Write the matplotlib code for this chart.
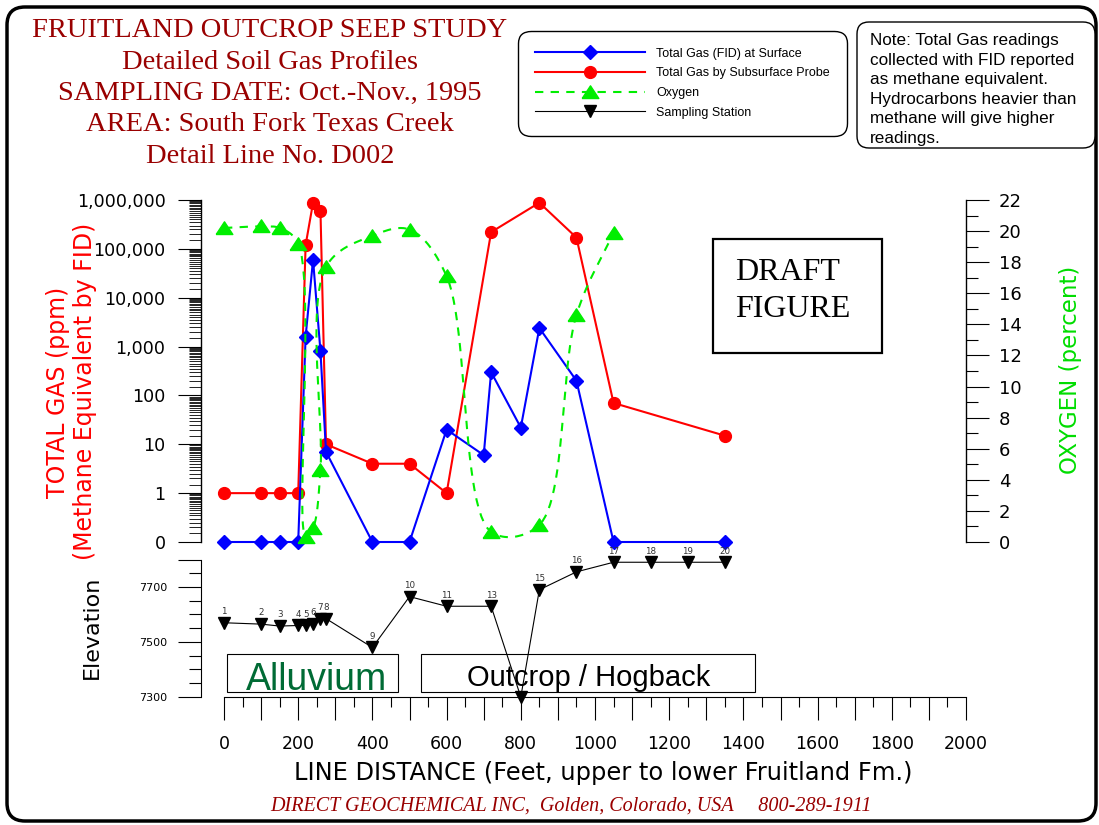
"""
Fruitland outcrop seep study - detailed soil gas profile, line D002
"""
import numpy as np
import matplotlib
matplotlib.use('Agg')
import matplotlib.pyplot as plt
from matplotlib.lines import Line2D
from matplotlib.patches import FancyBboxPatch, Rectangle
from matplotlib.ticker import FixedLocator, LogLocator, MultipleLocator, NullFormatter

# Total gas by FID at surface (ppm, 0 = not detected)
fid_dist = [0, 100, 150, 200, 220, 240, 260, 275, 400, 500, 600, 700, 720, 800, 850, 950, 1050, 1350]
fid_ppm = [0, 0, 0, 0, 1600, 60000, 800, 7, 0, 0, 20, 6, 300, 22, 2400, 200, 0, 0]

# Total gas by subsurface probe (ppm)
probe_dist = [0, 100, 150, 200, 220, 240, 260, 275, 400, 500, 600, 720, 850, 950, 1050, 1350]
probe_ppm = [1, 1, 1, 1, 120000, 880000, 600000, 10, 4, 4, 1, 220000, 880000, 170000, 70, 15]

# Oxygen (percent)
o2_dist = [0, 100, 150, 200, 220, 240, 260, 275, 400, 500, 600, 720, 850, 950, 1050]
o2_pct = [20.2, 20.3, 20.2, 19.2, 0.35, 0.9, 4.6, 17.7, 19.7, 20.1, 17.1, 0.65, 1.1, 14.6, 19.9]

# Sampling stations (elevation, ft)
stn_dist = [0, 100, 150, 200, 220, 240, 260, 275, 400, 500, 600, 720, 800, 850, 950, 1050, 1150, 1250, 1350]
stn_elev = [7570, 7565, 7558, 7560, 7560, 7565, 7585, 7585, 7480, 7665, 7630, 7630, 7300, 7690, 7755,
            7790, 7790, 7790, 7790]
stn_label = ['1', '2', '3', '4', '5', '6', '7', '8', '9', '10', '11', '13', '', '15', '16', '17', '18', '19', '20']

gas_ticks = [0.1, 1, 10, 100, 1e3, 1e4, 1e5, 1e6]
gas_ticklabels = ['0', '1', '10', '100', '1,000', '10,000', '100,000', '1,000,000']

BLUE = '#0000FF'
RED = '#FF0000'
GREEN = '#00EE00'
DARKRED = '#990000'

W, H = 1099, 825
plt.rcParams['font.family'] = 'DejaVu Sans'
fig = plt.figure(figsize=(W / 100, H / 100), dpi=100)


def spline(xs, ys, sx, sy, n=24):
    # centripetal Catmull-Rom through the points, worked out in screen-scaled units
    p = np.column_stack([np.asarray(xs, float) * sx, np.asarray(ys, float) * sy])
    p = np.vstack([2 * p[0] - p[1], p, 2 * p[-1] - p[-2]])
    out = []
    for i in range(1, len(p) - 2):
        p0, p1, p2, p3 = p[i - 1], p[i], p[i + 1], p[i + 2]
        t0 = 0.0
        t1 = t0 + np.linalg.norm(p1 - p0) ** 0.5
        t2 = t1 + np.linalg.norm(p2 - p1) ** 0.5
        t3 = t2 + np.linalg.norm(p3 - p2) ** 0.5
        t = np.linspace(t1, t2, n, endpoint=False)[:, None]
        a1 = (t1 - t) / (t1 - t0) * p0 + (t - t0) / (t1 - t0) * p1
        a2 = (t2 - t) / (t2 - t1) * p1 + (t - t1) / (t2 - t1) * p2
        a3 = (t3 - t) / (t3 - t2) * p2 + (t - t2) / (t3 - t2) * p3
        b1 = (t2 - t) / (t2 - t0) * a1 + (t - t0) / (t2 - t0) * a2
        b2 = (t3 - t) / (t3 - t1) * a2 + (t - t1) / (t3 - t1) * a3
        out.append((t2 - t) / (t2 - t1) * b1 + (t - t1) / (t2 - t1) * b2)
    out.append(p[-2][None, :])
    out = np.vstack(out)
    return out[:, 0] / sx, out[:, 1] / sy


# overlay in pixel coordinates for the frame, titles and boxes
ov = fig.add_axes([0, 0, 1, 1])
ov.set_xlim(0, W)
ov.set_ylim(H, 0)
ov.axis('off')

XLIM = (-62, 2000)
ax = fig.add_axes([201 / W, 1 - 542 / H, 765 / W, 342 / H])
ax.set_facecolor('none')
ax2 = ax.twinx()
ax_el = fig.add_axes([201 / W, 1 - 697 / H, 765 / W, 137.5 / H], sharex=ax)
ax_el.set_facecolor('none')

# total gas, log scale with 0 drawn at the bottom decade
fid_plot = np.where(np.array(fid_ppm) == 0, 0.1, fid_ppm)
ax.plot(probe_dist, probe_ppm, color=RED, lw=1.5, marker='o', ms=8.5, clip_on=False, zorder=3)
ax.plot(fid_dist, fid_plot, color=BLUE, lw=1.5, marker='D', ms=6.8, clip_on=False, zorder=4)
ax.set_yscale('log')
ax.set_ylim(0.1, 1e6)
ax.set_xlim(*XLIM)
ax.set_yticks(gas_ticks)
ax.set_yticklabels(gas_ticklabels, fontsize=12.6)
ax.yaxis.set_minor_locator(LogLocator(base=10, subs=np.arange(1.5, 10, 0.5), numticks=50))
ax.yaxis.set_minor_formatter(NullFormatter())
ax.tick_params(axis='y', which='major', direction='out', length=16.5, width=0.8, pad=9)
ax.tick_params(axis='y', which='minor', direction='out', length=9, width=0.6)
ax.tick_params(axis='x', which='both', bottom=False, labelbottom=False)
for s in ['top', 'right', 'bottom']:
    ax.spines[s].set_visible(False)
ax.spines['left'].set_linewidth(1.0)

# oxygen, smoothed dashed curve
cx, cy = spline(o2_dist, o2_pct, 0.371, 15.545)
ax2.plot(cx, cy, color=GREEN, lw=1.5, ls=(0, (4, 3.5)), zorder=2)
o2_marker = [(-1, -0.72), (1, -0.72), (0, 0.8), (-1, -0.72)]
ax2.plot(o2_dist, o2_pct, ls='none', marker=o2_marker, ms=12, color=GREEN, clip_on=False, zorder=2)
ax2.set_ylim(0, 22)
ax2.set_yticks(range(0, 23, 2))
ax2.yaxis.set_minor_locator(MultipleLocator(1))
ax2.tick_params(axis='y', which='major', direction='out', length=16.5, width=0.8, pad=7, labelsize=13)
ax2.tick_params(axis='y', which='minor', direction='out', length=8.5, width=0.8)
ax2.tick_params(axis='x', which='both', bottom=False, labelbottom=False)
for s in ['top', 'left', 'bottom']:
    ax2.spines[s].set_visible(False)
ax2.spines['right'].set_linewidth(1.0)

# elevation of sampling stations
ax_el.plot(stn_dist, stn_elev, color='black', lw=0.8, marker='v', ms=8, clip_on=False, zorder=3)
for d, e, lbl in zip(stn_dist, stn_elev, stn_label):
    ax_el.annotate(lbl, (d, e), xytext=(0, 4.8), textcoords='offset points', ha='center', va='bottom',
                   fontsize=6.3, color='#333333')
ax_el.set_ylim(7300, 7800)
ax_el.yaxis.set_major_locator(FixedLocator([7300, 7500, 7700, 7800]))
ax_el.set_yticklabels(['7300', '7500', '7700', ''], fontsize=8)
ax_el.yaxis.set_minor_locator(MultipleLocator(50))
ax_el.tick_params(axis='y', which='major', direction='out', length=16.5, width=0.8, pad=8)
ax_el.tick_params(axis='y', which='minor', direction='out', length=9, width=0.8)
ax_el.xaxis.set_major_locator(FixedLocator(range(0, 2001, 100)))
ax_el.set_xticklabels([str(v) if v % 200 == 0 else '' for v in range(0, 2001, 100)], fontsize=12.5)
ax_el.xaxis.set_minor_locator(FixedLocator(range(50, 2000, 100)))
ax_el.tick_params(axis='x', which='major', direction='out', length=16.5, width=0.8, pad=11)
ax_el.tick_params(axis='x', which='minor', direction='out', length=7, width=0.8)
ax_el.set_xlim(*XLIM)
ax_el.spines['top'].set_visible(False)
ax_el.spines['right'].set_visible(False)
ax_el.spines['bottom'].set_bounds(0, 2000)

# axis titles
ov.text(58, 392, 'TOTAL GAS (ppm)', rotation=90, ha='center', va='center', fontsize=17, color=RED)
ov.text(85, 391, '(Methane Equivalent by FID)', rotation=90, ha='center', va='center', fontsize=17, color=RED)
ov.text(1070, 370, 'OXYGEN (percent)', rotation=90, ha='center', va='center', fontsize=16.5, color='#00DD00')
ov.text(92, 627, 'Elevation', rotation=90, ha='center', va='center', fontsize=16)
ov.text(603, 773, 'LINE DISTANCE (Feet, upper to lower Fruitland Fm.)', ha='center', va='center', fontsize=17.4)

# title block
title_lines = ['FRUITLAND OUTCROP SEEP STUDY', 'Detailed Soil Gas Profiles',
               'SAMPLING DATE: Oct.-Nov., 1995', 'AREA: South Fork Texas Creek', 'Detail Line No. D002']
for yb, line in zip([37, 69, 100, 131, 163], title_lines):
    ov.text(270, yb, line, ha='center', va='baseline', fontsize=20.5, color=DARKRED, family='Liberation Serif')

ov.text(571, 811, 'DIRECT GEOCHEMICAL INC,  Golden, Colorado, USA     800-289-1911', ha='center',
        va='baseline', fontsize=14.5, color=DARKRED, family='Liberation Serif', style='italic')

# outer frame
ov.add_patch(FancyBboxPatch((7, 7), 1089, 814, boxstyle='round,pad=0,rounding_size=18',
                            fc='none', ec='black', lw=2.5))

# note box
ov.add_patch(FancyBboxPatch((857, 22), 238, 126, boxstyle='round,pad=0,rounding_size=12',
                            fc='white', ec='black', lw=1))
note_lines = ['Note: Total Gas readings', 'collected with FID reported', 'as methane equivalent.',
              'Hydrocarbons heavier than', 'methane will give higher', 'readings.']
for i, line in enumerate(note_lines):
    ov.text(870, 45 + 19.6 * i, line, ha='left', va='baseline', fontsize=12.3, family='Liberation Sans')

# draft box
ov.add_patch(Rectangle((713, 239), 169, 114, fc='none', ec='black', lw=1.6))
ov.text(735, 280, 'DRAFT', ha='left', va='baseline', fontsize=23, family='Liberation Serif')
ov.text(735, 317, 'FIGURE', ha='left', va='baseline', fontsize=23, family='Liberation Serif')

# geology boxes
ov.add_patch(Rectangle((227, 654), 171, 38, fc='none', ec='black', lw=0.8))
ov.text(317, 690, 'Alluvium', ha='center', va='baseline', fontsize=27, color='#006B35', family='Liberation Sans')
ov.add_patch(Rectangle((421, 654), 334, 38, fc='none', ec='black', lw=0.8))
ov.text(589, 686, 'Outcrop / Hogback', ha='center', va='baseline', fontsize=21, family='Liberation Sans')

# legend
handles = [
    Line2D([], [], color=BLUE, lw=1.5, marker='D', ms=6.8),
    Line2D([], [], color=RED, lw=1.5, marker='o', ms=8.5),
    Line2D([], [], color=GREEN, lw=1.5, ls=(0, (4, 3.5)), marker=o2_marker, ms=12),
    Line2D([], [], color='black', lw=0.8, marker='v', ms=8),
]
labels = ['Total Gas (FID) at Surface', 'Total Gas by Subsurface Probe', 'Oxygen', 'Sampling Station']
leg = fig.legend(handles, labels, loc='upper left', bbox_to_anchor=(518 / W, 1 - 30.7 / H),
                 borderaxespad=0, prop={'family': 'Liberation Sans', 'size': 9}, handlelength=8.8,
                 handletextpad=0.9, labelspacing=0.62, borderpad=1.35, numpoints=1, frameon=True,
                 fancybox=True, edgecolor='black', framealpha=1)
leg.get_frame().set_linewidth(1)
leg.get_frame().set_boxstyle('round,pad=0,rounding_size=1.0')

plt.savefig('out.png', dpi=100)
print('Saved: out.png')
